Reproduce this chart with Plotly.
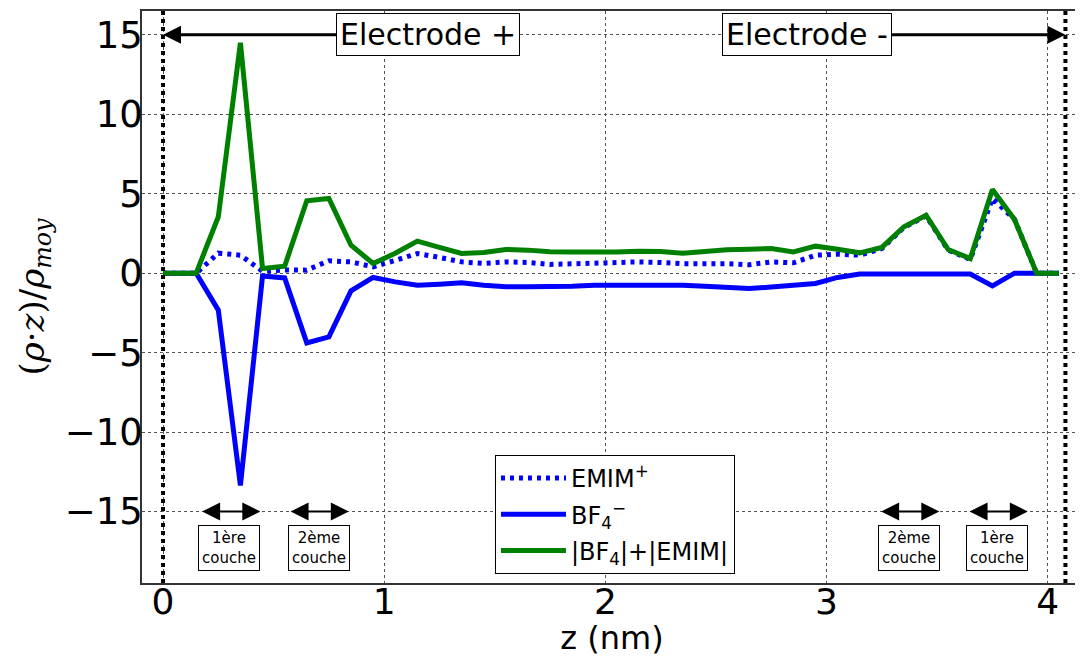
import plotly.graph_objects as go

# ---- data ----
z_nm = [0.0, 0.15, 0.25, 0.35, 0.45, 0.55, 0.65, 0.75, 0.85, 0.95,
        1.05, 1.15, 1.25, 1.35, 1.45, 1.55, 1.65, 1.75, 1.85, 1.95,
        2.05, 2.15, 2.25, 2.35, 2.45, 2.55, 2.65, 2.75, 2.85, 2.95,
        3.05, 3.15, 3.25, 3.35, 3.45, 3.55, 3.65, 3.75, 3.85, 3.95, 4.05]

emim = [0, 0, 1.26, 1.13, 0.12, 0.20, 0.19, 0.78, 0.71, 0.40,
        0.80, 1.24, 0.99, 0.71, 0.61, 0.71, 0.67, 0.55, 0.59, 0.65,
        0.65, 0.71, 0.67, 0.59, 0.59, 0.60, 0.53, 0.71, 0.65, 1.13,
        1.20, 1.13, 1.55, 2.88, 3.60, 1.45, 0.86, 4.70, 3.38, 0, 0]

bf4 = [0, 0, -2.33, -13.36, -0.18, -0.30, -4.39, -4.01, -1.11, -0.27,
       -0.55, -0.76, -0.69, -0.61, -0.76, -0.86, -0.86, -0.86, -0.82, -0.76,
       -0.76, -0.71, -0.71, -0.76, -0.82, -0.88, -0.97, -0.87, -0.76, -0.65,
       -0.27, -0.06, -0.05, -0.04, 0, 0, -0.05, -0.80, 0, 0, 0]

total = [0, 0, 3.55, 14.5, 0.30, 0.44, 4.56, 4.70, 1.76, 0.61,
         1.25, 2.02, 1.62, 1.24, 1.30, 1.49, 1.45, 1.35, 1.33, 1.32,
         1.33, 1.38, 1.36, 1.25, 1.38, 1.47, 1.50, 1.55, 1.34, 1.70,
         1.50, 1.28, 1.62, 2.92, 3.65, 1.49, 0.92, 5.27, 3.38, 0, 0]

x_ticks = [0, 1, 2, 3, 4]
y_ticks = [-15, -10, -5, 0, 5, 10, 15]
electrode_pos = [0.0, 4.08]

# double arrows marking layers: (start, end, label centre, label)
layers = [
    (0.17, 0.44, 0.30, "1ère<br>couche"),
    (0.57, 0.84, 0.705, "2ème<br>couche"),
    (3.24, 3.51, 3.375, "2ème<br>couche"),
    (3.64, 3.91, 3.77, "1ère<br>couche"),
]
layer_arrow_y = -15
layer_label_y = -17.3

FONT = "DejaVu Sans"

fig = go.Figure()
fig.add_trace(go.Scatter(x=z_nm, y=emim, mode="lines", name="EMIM<sup>+</sup>", legendgroup="a",
                         line=dict(color="#0000ff", width=5, dash="4px,5px")))
fig.add_trace(go.Scatter(x=z_nm, y=bf4, mode="lines", name="BF<sub>4</sub><sup>−</sup>", legendgroup="b",
                         line=dict(color="#0000ff", width=5)))
fig.add_trace(go.Scatter(x=z_nm, y=total, mode="lines", name="|BF<sub>4</sub>|+|EMIM|", legendgroup="c",
                         line=dict(color="#008000", width=5)))

# electrode positions
for xe in electrode_pos:
    fig.add_shape(type="line", xref="x", yref="paper", x0=xe, x1=xe, y0=0, y1=1,
                  line=dict(color="black", width=4, dash="4px,4px"))

# electrode annotations
for xe, xt, lab in [(electrode_pos[0], 1.20, "Electrode +"), (electrode_pos[1], 2.91, "Electrode -")]:
    fig.add_annotation(x=xe, y=15, ax=xt, ay=15, axref="x", ayref="y",
                       text=lab, showarrow=True, arrowhead=2, arrowsize=1.2,
                       arrowwidth=3, arrowcolor="black", standoff=0,
                       font=dict(family=FONT, size=30, color="black"),
                       bgcolor="white", bordercolor="black", borderwidth=1, borderpad=3)

for x0, x1, xc, lab in layers:
    fig.add_annotation(x=x1, y=layer_arrow_y, ax=x0, ay=layer_arrow_y, axref="x", ayref="y",
                       text="", showarrow=True, arrowside="end+start",
                       arrowhead=2, startarrowhead=2, arrowsize=1.8, startarrowsize=1.8,
                       arrowwidth=2, arrowcolor="black", standoff=0, startstandoff=0)
    fig.add_annotation(x=xc, y=layer_label_y, text=lab, showarrow=False,
                       font=dict(family=FONT, size=15, color="black"),
                       bgcolor="white", bordercolor="black", borderwidth=1, borderpad=3)

# the page body has an 8px margin; size/margins compensate so the plot lands where the reference has it
fig.update_layout(
    width=1075, height=649,
    paper_bgcolor="white", plot_bgcolor="white",
    margin=dict(l=134, r=1, t=3, b=74),
    font=dict(family=FONT, color="black"),
    showlegend=True,
    legend=dict(x=0.3755, y=0.2238, xanchor="left", yanchor="top",
                bgcolor="white", bordercolor="black", borderwidth=1,
                font=dict(family=FONT, size=24, color="black"),
                itemwidth=65, tracegroupgap=2),
)
fig.update_xaxes(range=[-0.095, 4.155], tickvals=x_ticks, ticktext=[str(v) for v in x_ticks],
                 automargin=False, ticklabelstandoff=-14,
                 showgrid=True, gridcolor="#555555", griddash="dot", gridwidth=1,
                 zeroline=False, showline=True, linecolor="#333333", linewidth=1.5, mirror=True,
                 tickfont=dict(family=FONT, size=36),
                 title=dict(text="z (nm)", font=dict(family=FONT, size=32), standoff=0))
fig.update_yaxes(range=[-19.5, 16.5], tickvals=y_ticks, automargin=False, ticklabelstandoff=-10,
                 showgrid=True, gridcolor="#555555", griddash="dot", gridwidth=1,
                 zeroline=False, showline=True, linecolor="#333333", linewidth=1.5, mirror=True,
                 tickfont=dict(family=FONT, size=37),
                 title=dict(text="(<i>ρ</i>·<i>z</i>)/<i>ρ</i><sub><i>moy</i></sub>",
                            font=dict(family="DejaVu Serif", size=34), standoff=10))

fig.write_html("out.html")
